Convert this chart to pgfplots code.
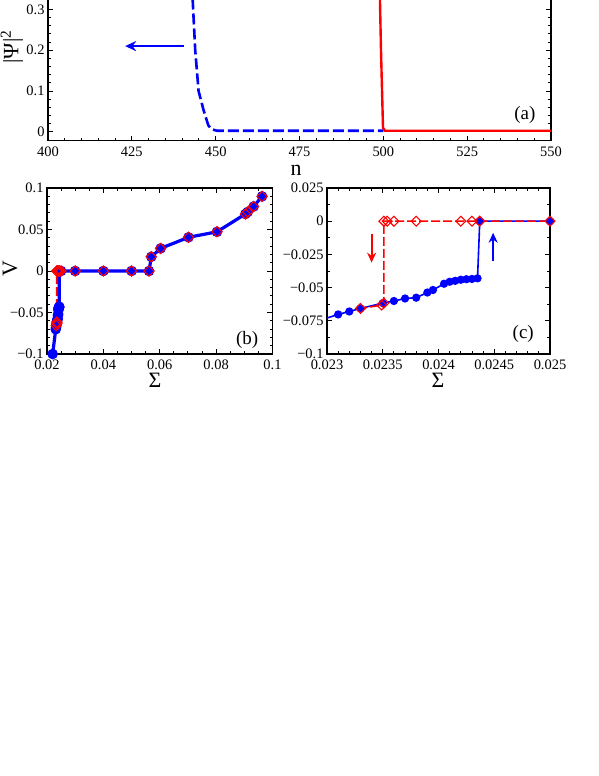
\documentclass[border=0pt]{standalone}
\usepackage{fontspec}
\setmainfont{Liberation Serif}
\usepackage{pgfplots}
\usepackage{pgfplotstable}
\pgfplotsset{compat=1.18}
\usetikzlibrary{arrows.meta}

% upward branch (filled circles)
\pgfplotstableread{
s       v
0.0220  -0.1000
0.0231  -0.0702
0.0232  -0.0680
0.0233  -0.0657
0.0235  -0.0617
0.0236  -0.0601
0.0237  -0.0582
0.0238  -0.0576
0.0239  -0.0537
0.02395 -0.0518
0.02405 -0.0471
0.0241  -0.0456
0.02415 -0.0449
0.0242  -0.0441
0.02425 -0.0437
0.0243  -0.0435
0.02435 -0.0430
0.02437 0
0.0250  0
0.0300  0
0.0400  0
0.0500  0
0.0562  0
0.0570  0.0171
0.0603  0.0272
0.0702  0.0406
0.0803  0.0472
0.0904  0.0687
0.0912  0.0711
0.0933  0.0777
0.0963  0.0899
}\upbranch

% downward branch (open diamonds)
\pgfplotstableread{
s       v
0.0963  0.0899
0.0933  0.0777
0.0912  0.0711
0.0904  0.0687
0.0803  0.0472
0.0702  0.0406
0.0603  0.0272
0.0570  0.0171
0.0562  0
0.0500  0
0.0400  0
0.0300  0
0.0250  0
0.02437 0
0.0243  0
0.0242  0
0.0238  0
0.0236  0
0.02354 0
0.02351 0
0.02351 -0.0617
0.02349 -0.0632
0.0233  -0.0657
}\downbranch

\pgfplotsset{
  grace/.style={
    scale only axis,
    axis line style={line width=1.1bp},
    tick style={line width=0.9bp, black},
    major tick length=5bp, minor tick length=2.8bp,
    tick align=inside,
    scaled ticks=false,
    tick label style={font=\fontsize{14.5}{16}\selectfont},
    label style={font=\fontsize{22}{24}\selectfont},
    /pgf/number format/assume math mode=true,
  },
  diam/.style={mark=square, mark size=#1, mark options={solid, rotate=45, line width=1.1bp, fill=none}},
}

\begin{document}
\begin{tikzpicture}

% (a)
\begin{axis}[grace,
  at={(48bp,635.2bp)}, anchor=south west, width=503bp, height=145.7bp,
  xmin=400, xmax=550, ymin=-0.022, ymax=0.335,
  xtick={400,425,450,475,500,525,550}, minor x tick num=4,
  ytick={0,0.1,0.2,0.3}, yticklabels={0,0.1,0.2,0.3}, minor y tick num=4,
  xticklabel style={yshift=-3bp},
  xlabel={n}, ylabel={|Ψ|\textsuperscript{2}},
  xlabel style={at={(axis description cs:0.493,-0.2)}, anchor=center, inner sep=0pt},
  ylabel style={at={(axis description cs:-0.0716,0.644)}, anchor=center},
]
\addplot[blue, line width=2.6bp, dash pattern=on 11bp off 4bp] coordinates {
  (442.6,0.40) (443.1,0.33) (443.9,0.20) (444.9,0.10) (446.4,0.053)
  (447.8,0.016) (448.8,0.006) (450.5,0.0025) (500,0.0025)};
\addplot[red, line width=2.4bp] coordinates {
  (498.8,0.40) (499.3,0.20) (499.9,0.01) (500.5,0.0025) (550,0.0025)};
\addplot[blue, line width=1.8bp, -{Stealth[length=11bp,width=10bp]}]
  coordinates {(440.6,0.21) (423,0.21)};
\node[font=\fontsize{19}{20}\selectfont] at (axis cs:542.2,0.041) {(a)};
\end{axis}

% (b)
\begin{axis}[grace,
  at={(47bp,422bp)}, anchor=south west, width=225.5bp, height=166bp,
  xmin=0.02, xmax=0.1, ymin=-0.1, ymax=0.1,
  xtick={0.02,0.04,0.06,0.08,0.1}, xticklabels={0.02,0.04,0.06,0.08,0.1},
  minor x tick num=3,
  ytick={-0.1,-0.05,0,0.05,0.1}, yticklabels={−0.1,−0.05,0,0.05,0.1},
  minor y tick num=4,
  xticklabel style={yshift=-2bp},
  xlabel={Σ}, ylabel={V},
  xlabel style={at={(axis description cs:0.479,-0.16)}, anchor=center},
  ylabel style={at={(axis description cs:-0.164,0.512)}, anchor=center},
]
\addplot[red, line width=2bp, dash pattern=on 9bp off 3bp] table[x=s,y=v] {\downbranch};
\addplot[blue, line width=3.2bp, mark=*, mark size=3.6bp] table[x=s,y=v] {\upbranch};
\addplot[red, only marks, diam=3.6bp] table[x=s,y=v] {\downbranch};
\node[font=\fontsize{19}{20}\selectfont] at (axis cs:0.091,-0.0826) {(b)};
\end{axis}

% (c)
\begin{axis}[grace,
  at={(327bp,422bp)}, anchor=south west, width=223bp, height=166bp,
  xmin=0.023, xmax=0.025, ymin=-0.1, ymax=0.025,
  xtick={0.023,0.0235,0.024,0.0245,0.025},
  xticklabels={0.023,0.0235,0.024,0.0245,0.025},
  minor x tick num=4,
  ytick={-0.1,-0.075,-0.05,-0.025,0,0.025},
  yticklabels={−0.1,−0.075,−0.05,−0.025,0,0.025},
  minor y tick num=1,
  xticklabel style={yshift=-2bp},
  xlabel={Σ},
  xlabel style={at={(axis description cs:0.498,-0.16)}, anchor=center},
]
\addplot[blue, line width=1.6bp, mark=*, mark size=3.3bp] table[x=s,y=v] {\upbranch};
\addplot[red, line width=1.6bp, dash pattern=on 9bp off 3bp, diam=3.5bp] table[x=s,y=v] {\downbranch};
\addplot[red, line width=1.8bp, -{Stealth[length=10bp,width=9bp]}]
  coordinates {(0.0234,-0.010) (0.0234,-0.0312)};
\addplot[blue, line width=1.8bp, -{Stealth[length=10bp,width=9bp]}]
  coordinates {(0.02449,-0.030) (0.02449,-0.0087)};
\node[font=\fontsize{19}{20}\selectfont] at (axis cs:0.02476,-0.085) {(c)};
\end{axis}

\pgfresetboundingbox
\useasboundingbox (0,0) rectangle (599bp,776bp);
\end{tikzpicture}
\end{document}
